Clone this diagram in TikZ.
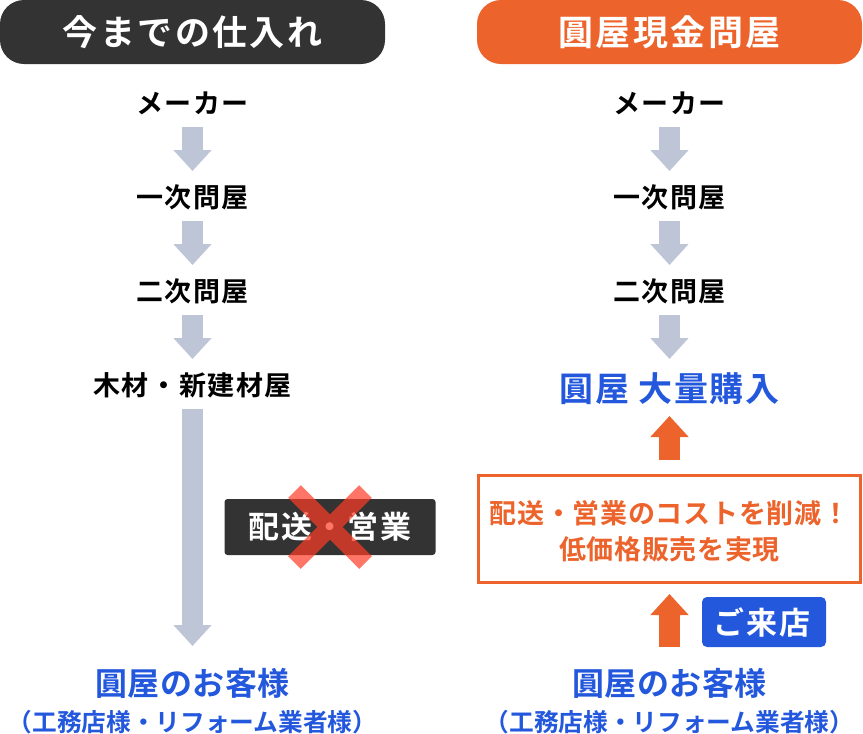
\documentclass[tikz,border=0pt]{standalone}
\usepackage{fontspec}
\usetikzlibrary{arrows.meta}
\setmainfont{Noto Sans CJK JP}[BoldFont={* Bold},Scale=1]
\definecolor{ink}{HTML}{333333}
\definecolor{orangeC}{HTML}{EC632B}
\definecolor{blueC}{HTML}{2358DD}
\definecolor{grayC}{HTML}{BDC5D6}
\definecolor{redC}{HTML}{FF3B26}
\newfontfamily\spTitle{Noto Sans CJK JP Bold}[LetterSpace=7]
\newfontfamily\spLabel{Noto Sans CJK JP Bold}[LetterSpace=6]
\newfontfamily\spBig{Noto Sans CJK JP Bold}[LetterSpace=1.5]
\newfontfamily\spHuge{Noto Sans CJK JP Bold}[LetterSpace=5]
\newfontfamily\spSmall{Noto Sans CJK JP Bold}[LetterSpace=0]
\newfontfamily\spKey{Noto Sans CJK JP Bold}[LetterSpace=7]
\newfontfamily\spNote{Noto Sans CJK JP Bold}[LetterSpace=2.5]
\newfontfamily\spCome{Noto Sans CJK JP Bold}[LetterSpace=5]
\tikzset{
  x=1pt,y=-1pt,
  lbl/.style={inner sep=0pt,outer sep=0pt,align=center,font=\spLabel\fontsize{27}{27}\selectfont,text height=22pt,text depth=4pt,text=black},
  titlebar/.style={rounded corners=24pt,inner sep=0pt,minimum width=385pt,minimum height=64pt,text=white,font=\spTitle\fontsize{35}{35}\selectfont},
  bl/.style={lbl,text=blueC},
  blbig/.style={bl,font=\spBig\fontsize{32}{32}\selectfont,text height=26pt,text depth=4pt},
  blhuge/.style={bl,font=\spHuge\fontsize{34}{34}\selectfont,text height=26pt,text depth=4pt},
  blsm/.style={bl,font=\spSmall\fontsize{24.7}{24.7}\selectfont,text height=21pt,text depth=3pt},
  garrow/.style={grayC,line width=21pt,-{Triangle[width=37pt,length=21pt]},shorten <=10pt,shorten >=14pt},
  oarrow/.style={orangeC,line width=21pt,-{Triangle[width=37pt,length=21pt]}},
}
\begin{document}
\begin{tikzpicture}
\useasboundingbox (0,0) rectangle (863,734);
\node[titlebar,fill=ink] (t1) at (192.5,32) {今までの仕入れ};
\node[titlebar,fill=orangeC] (t2) at (669.5,32) {圓屋現金問屋};
\node[lbl] (a1) at (192.5,104) {メーカー};
\node[lbl] (a2) at (192.5,198) {一次問屋};
\node[lbl] (a3) at (192.5,292) {二次問屋};
\node[lbl] (a4) at (192.5,386) {木材・新建材屋};
\node[blbig] (a5) at (192.5,684) {圓屋のお客様};
\node[blsm] (a6) at (192.5,722) {（工務店様・リフォーム業者様）};
\node[lbl] (b1) at (669.5,104) {メーカー};
\node[lbl] (b2) at (669.5,198) {一次問屋};
\node[lbl] (b3) at (669.5,292) {二次問屋};
\node[blhuge] (b4) at (669.5,390) {圓屋 大量購入};
\node[blbig] (b5) at (669.5,684) {圓屋のお客様};
\node[blsm] (b6) at (669.5,722) {（工務店様・リフォーム業者様）};
\draw[garrow] (a1) -- (a2);
\draw[garrow] (a2) -- (a3);
\draw[garrow] (a3) -- (a4);
\draw[garrow,shorten >=23pt] (a4) -- (a5);
\draw[garrow] (b1) -- (b2);
\draw[garrow] (b2) -- (b3);
\draw[garrow,shorten >=16pt] (b3) -- (b4);
\node[fill=ink,rounded corners=3pt,minimum width=211pt,minimum height=56pt,inner sep=0pt,text=white,font=\spKey\fontsize{31}{31}\selectfont] (k) at (330,527) {配送・営業};
\coordinate (x1) at (294.5,491.5);
\coordinate (x2) at (365.5,562.5);
\coordinate (x3) at (365.5,491.5);
\coordinate (x4) at (294.5,562.5);
\draw[redC,opacity=.7,line width=18pt] (x1) -- (x2) (x3) -- (x4);
\node[draw=orangeC,line width=3pt,fill=white,minimum width=382pt,minimum height=107pt,inner sep=0pt,align=center,text=orangeC,font=\spNote\fontsize{27}{36}\selectfont] (m) at (669.5,529) {\rule{0pt}{28pt}配送・営業のコストを削減！\\低価格販売を実現};
\draw[oarrow,shorten <=14pt,shorten >=11pt] (m.north) -- (b4.south);
\draw[oarrow,shorten <=22pt,shorten >=10pt] (b5.north) -- (m.south);
\node[fill=blueC,rounded corners=5pt,minimum width=124pt,minimum height=50pt,inner sep=0pt,text=white,font=\spCome\fontsize{31}{31}\selectfont] (g) at (764,622) {ご来店\kern4pt};
\end{tikzpicture}
\end{document}
